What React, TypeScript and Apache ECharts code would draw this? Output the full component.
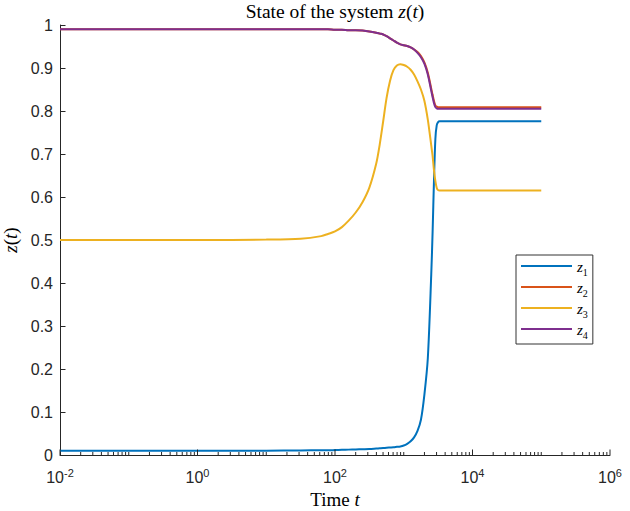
import React, { useEffect, useRef } from 'react';
import * as echarts from 'echarts';

// time samples (log-spaced)
const times = [0.01, 0.1, 1, 10, 31.6, 63, 79, 100, 126, 158, 200, 251, 316, 398, 447, 501, 562, 631, 708, 794, 891, 1000, 1122, 1259, 1413, 1585, 1778, 1995, 2239, 2512, 2630, 2754, 2884, 3020, 3162, 3311, 3548, 3981, 5012, 10000, 100000];
const z1 = [0.010, 0.010, 0.010, 0.010, 0.0105, 0.011, 0.011, 0.0115, 0.012, 0.0125, 0.013, 0.0135, 0.014, 0.015, 0.0155, 0.016, 0.017, 0.0175, 0.018, 0.019, 0.020, 0.022, 0.026, 0.032, 0.041, 0.056, 0.082, 0.140, 0.225, 0.420, 0.520, 0.640, 0.735, 0.767, 0.774, 0.776, 0.776, 0.776, 0.776, 0.776, 0.776];
const z2 = [0.990, 0.990, 0.990, 0.990, 0.990, 0.990, 0.990, 0.989, 0.989, 0.988, 0.988, 0.987, 0.985, 0.982, 0.980, 0.978, 0.974, 0.969, 0.964, 0.959, 0.955, 0.953, 0.951, 0.948, 0.943, 0.937, 0.928, 0.913, 0.889, 0.852, 0.837, 0.823, 0.813, 0.810, 0.809, 0.809, 0.809, 0.809, 0.809, 0.809, 0.809];
const z3 = [0.500, 0.500, 0.500, 0.501, 0.503, 0.509, 0.514, 0.520, 0.530, 0.545, 0.564, 0.588, 0.622, 0.678, 0.722, 0.775, 0.830, 0.870, 0.895, 0.906, 0.909, 0.907, 0.903, 0.896, 0.885, 0.869, 0.850, 0.824, 0.780, 0.720, 0.695, 0.662, 0.637, 0.621, 0.616, 0.615, 0.615, 0.615, 0.615, 0.615, 0.615];
const z4 = [0.990, 0.990, 0.990, 0.990, 0.990, 0.990, 0.990, 0.989, 0.989, 0.988, 0.988, 0.987, 0.985, 0.982, 0.980, 0.978, 0.974, 0.969, 0.964, 0.959, 0.955, 0.953, 0.951, 0.948, 0.943, 0.935, 0.925, 0.910, 0.885, 0.847, 0.832, 0.818, 0.809, 0.806, 0.805, 0.805, 0.805, 0.805, 0.805, 0.805, 0.805];

const seriesNames = ['z1', 'z2', 'z3', 'z4'];
const seriesValues = [z1, z2, z3, z4];
const seriesColors = ['#0072BD', '#D95319', '#EDB120', '#7E2F8E'];

// axis ticks
const xLabelExponents = [-2, 0, 2, 4, 6];
const xDecadeExponents = [-2, -1, 0, 1, 2, 3, 4, 5];
const minorMultipliers = [2, 3, 4, 5, 6, 7, 8, 9];
const yTickLabels = ['0', '0.1', '0.2', '0.3', '0.4', '0.5', '0.6', '0.7', '0.8', '0.9', '1'];

const SERIF = "'Liberation Serif', 'DejaVu Serif', serif";
const SANS = "'Liberation Sans', Arial, Helvetica, sans-serif";
const AX = '#262626';

function buildTicks() {
  const ticks: number[][] = [];
  xLabelExponents.forEach((e) => ticks.push([Math.pow(10, e), 0, 1]));
  xDecadeExponents.forEach((e) => {
    if (xLabelExponents.indexOf(e) < 0) ticks.push([Math.pow(10, e), 0, 0]);
    minorMultipliers.forEach((m) => ticks.push([m * Math.pow(10, e), 0, 0]));
  });
  return ticks;
}

const serifRich = (size: number) => ({
  r: { fontFamily: SERIF, fontSize: size, fontWeight: 'normal', color: '#000' },
  i: { fontFamily: SERIF, fontSize: size, fontWeight: 'normal', fontStyle: 'italic', color: '#000' },
});

export default function App() {
  const ref = useRef<HTMLDivElement>(null);
  useEffect(() => {
    if (!ref.current) return;
    const chart = echarts.init(ref.current, undefined, { renderer: 'svg' });
    const lineSeries = seriesNames.map((name, i) => ({
      name,
      type: 'line',
      data: times.map((t, k) => [t, seriesValues[i][k]]),
      showSymbol: false,
      smooth: 0.3,
      color: seriesColors[i],
      lineStyle: { width: 2, color: seriesColors[i] },
      z: 2 + i,
    }));
    const tickSeries = {
      type: 'custom',
      name: 'ticks',
      silent: true,
      clip: false,
      z: 10,
      data: buildTicks(),
      encode: { x: 0, y: 1 },
      renderItem: (_params: any, api: any) => {
        const v = api.value(0);
        const major = api.value(2);
        const p = api.coord([v, 0]);
        const len = major ? 5.5 : 3;
        return {
          type: 'line',
          shape: { x1: p[0], y1: p[1], x2: p[0], y2: p[1] - len },
          style: { stroke: AX, lineWidth: 1 },
        };
      },
    };
    chart.setOption({
      animation: false,
      backgroundColor: '#fff',
      title: {
        text: '{r|State of the system }{i|z}{r|(}{i|t}{r|)}',
        left: 335,
        top: 1,
        textAlign: 'center',
        padding: 0,
        textStyle: { fontWeight: 'normal', rich: serifRich(19.5) },
      },
      grid: { left: 60, right: 20, top: 25, bottom: 56, containLabel: false, outerBoundsMode: 'none' },
      legend: {
        data: seriesNames,
        orient: 'vertical',
        left: 516,
        top: 255,
        padding: [4, 5, 4, 5],
        itemWidth: 51,
        itemHeight: 2,
        itemGap: 3,
        icon: 'rect',
        borderColor: '#333',
        borderWidth: 1,
        backgroundColor: '#fff',
        formatter: (name: string) => `{i|z}{s|${name.slice(1)}}`,
        textStyle: {
          rich: {
            i: { fontFamily: SERIF, fontSize: 15, fontStyle: 'italic', color: '#000', lineHeight: 14, verticalAlign: 'top' },
            s: { fontFamily: SERIF, fontSize: 10, color: '#000', lineHeight: 8, padding: [8, 0, 0, 0], verticalAlign: 'top' },
          },
        },
      },
      xAxis: {
        type: 'log',
        logBase: 10,
        min: 0.01,
        max: 1000000,
        splitNumber: 5,
        name: '{r|Time }{i|t}',
        nameLocation: 'middle',
        nameGap: 32,
        nameTextStyle: { rich: serifRich(19) },
        axisLine: { show: true, lineStyle: { color: AX, width: 1 } },
        axisTick: { show: false },
        splitLine: { show: false },
        minorTick: { show: false },
        axisLabel: {
          margin: 12,
          formatter: (v: number) => {
            const e = Math.round(Math.log10(v));
            if (xLabelExponents.indexOf(e) < 0) return '';
            return `{b|10}{s|${e}}`;
          },
          rich: {
            b: { fontFamily: SANS, fontSize: 16, color: AX, lineHeight: 20 },
            s: { fontFamily: SANS, fontSize: 11, color: AX, lineHeight: 10, verticalAlign: 'top' },
          },
        },
      },
      yAxis: {
        type: 'value',
        min: 0,
        max: 1,
        interval: 0.1,
        name: '{i|z}{r|(}{i|t}{r|)}',
        nameLocation: 'middle',
        nameGap: 31,
        nameTextStyle: { rich: serifRich(19) },
        axisLine: { show: true, lineStyle: { color: AX, width: 1 } },
        axisTick: { show: true, inside: true, length: 5.5, lineStyle: { color: AX } },
        splitLine: { show: false },
        axisLabel: {
          margin: 7,
          fontFamily: SANS,
          fontSize: 16,
          color: AX,
          formatter: (v: number) => yTickLabels[Math.round(v * 10)] ?? '',
        },
      },
      series: [...lineSeries, tickSeries],
    });
    return () => chart.dispose();
  }, []);
  return <div ref={ref} style={{ position: 'fixed', left: 0, top: 0, width: 630, height: 511 }} />;
}
